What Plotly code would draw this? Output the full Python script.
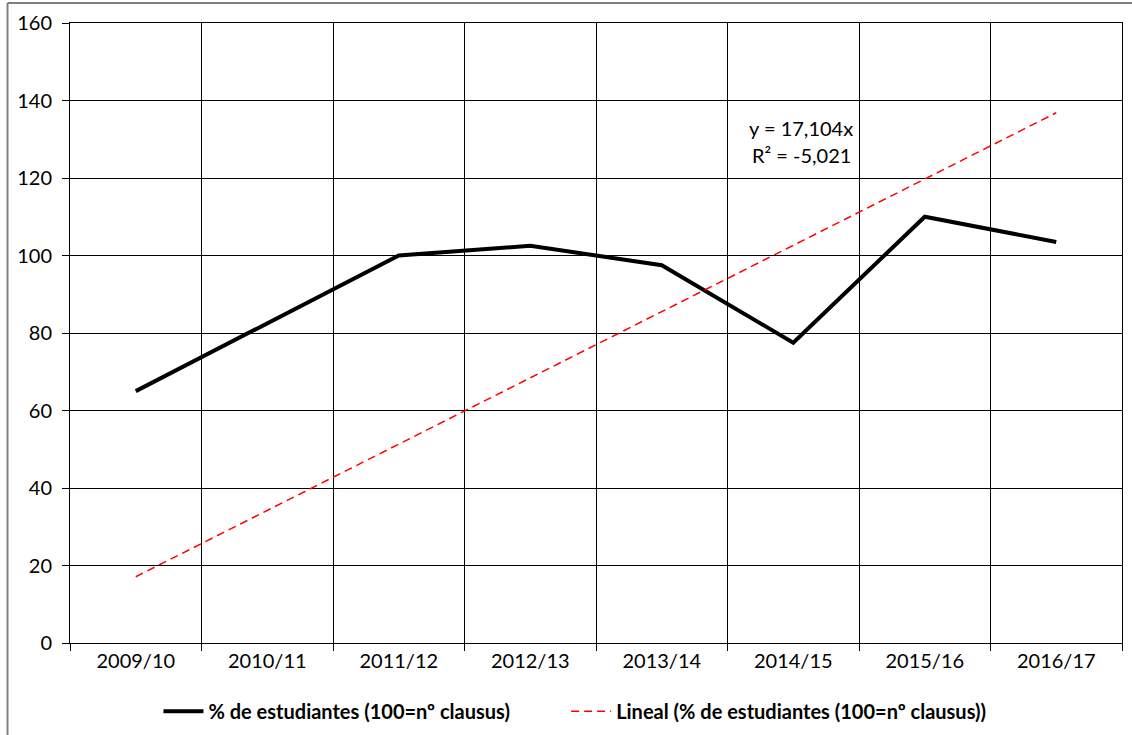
import plotly.graph_objects as go

# Academic years and share of students (100 = numerus clausus)
years = ["2009/10", "2010/11", "2011/12", "2012/13", "2013/14", "2014/15", "2015/16", "2016/17"]
pct_students = [65.0, 82.5, 100.0, 102.5, 97.5, 77.5, 110.0, 103.5]

# Linear trend through the origin, as reported on the chart
trend_slope = 17.104
trend_r2 = -5.021
trend_values = [trend_slope * (i + 1) for i in range(len(years))]

y_ticks = [0, 20, 40, 60, 80, 100, 120, 140, 160]

FONT = "Lato, 'Open Sans', sans-serif"
NBSP = "\u00a0"

fig = go.Figure()
fig.add_trace(go.Scatter(
    x=years, y=pct_students, mode="lines",
    name="<b>% de estudiantes (100=nº clausus)</b>" + NBSP * 10,
    line=dict(color="black", width=4),
))
fig.add_trace(go.Scatter(
    x=years, y=trend_values, mode="lines",
    name="<b>Lineal (% de estudiantes (100=nº clausus))</b>",
    line=dict(color="#FF0000", width=1.5, dash="8px,5px"),
))

def fmt_es(v):
    return f"{v:.3f}".replace(".", ",")

# Trend equation and R², one line each
eq_lines = [f"y = {fmt_es(trend_slope)}x", f"R² = {fmt_es(trend_r2)}"]
for text, ypos in zip(eq_lines, [0.831, 0.787]):
    fig.add_annotation(
        xref="paper", yref="paper", x=0.695, y=ypos,
        xanchor="center", yanchor="middle",
        text=text, showarrow=False,
        font=dict(family=FONT, size=20, color="black"),
    )

# Outer chart border (left and top edges)
border = dict(color="#7f7f7f", width=2)
fig.add_shape(type="line", xref="paper", yref="paper",
              x0=-0.0594, x1=-0.0594, y0=1.0323, y1=-0.2, line=border)
fig.add_shape(type="line", xref="paper", yref="paper",
              x0=-0.0594, x1=1.1, y0=1.0323, y1=1.0323, line=border)

fig.update_layout(
    width=1132, height=735,
    margin=dict(l=70, r=10, t=23, b=92, autoexpand=False),
    paper_bgcolor="white", plot_bgcolor="white",
    font=dict(family=FONT, size=20, color="black"),
    showlegend=True,
    legend=dict(
        orientation="h", x=0.48, xanchor="center", y=-0.11, yanchor="middle",
        font=dict(family=FONT, size=20, color="black"),
        itemwidth=40, tracegroupgap=0,
    ),
    xaxis=dict(
        type="category", range=[-0.5, 7.5],
        tickson="boundaries", ticks="outside", ticklen=7, tickcolor="black",
        showgrid=True, gridcolor="black", gridwidth=1,
        showline=True, linecolor="black", linewidth=1, mirror=True,
        zeroline=False,
        tickfont=dict(family=FONT, size=20, color="black"),
    ),
    yaxis=dict(
        range=[0, 160], tickvals=y_ticks,
        ticks="outside", ticklen=7, tickcolor="black",
        showgrid=True, gridcolor="black", gridwidth=1,
        showline=True, linecolor="black", linewidth=1, mirror=True,
        zeroline=False, ticklabelstandoff=6,
        tickfont=dict(family=FONT, size=20, color="black"),
    ),
)

fig.write_html("out.html")
